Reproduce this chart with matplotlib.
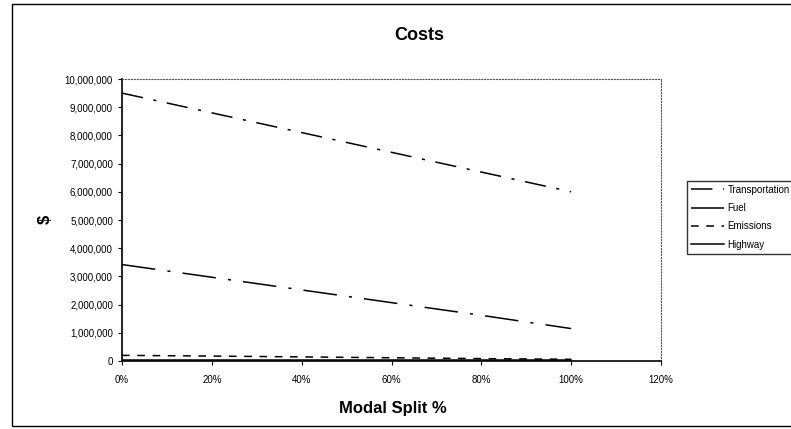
import matplotlib
matplotlib.use("Agg")
import matplotlib.pyplot as plt
from matplotlib.ticker import FuncFormatter, MultipleLocator
from matplotlib.patches import Rectangle

plt.rcParams['font.family'] = ['Liberation Sans', 'DejaVu Sans']

split = [0.0, 0.2, 0.4, 0.6, 0.8, 1.0]
transportation = [9500000, 8800000, 8100000, 7400000, 6700000, 6000000]
fuel = [3420000, 2970000, 2520000, 2070000, 1620000, 1150000]
emissions = [200000, 175000, 145000, 115000, 85000, 60000]
highway = [30000, 30000, 30000, 30000, 30000, 30000]

fig = plt.figure(figsize=(7.91, 4.29), dpi=100)
ax = fig.add_axes([122 / 791, 1 - 361 / 429, (661 - 122) / 791, (361 - 79) / 429])

ax.plot(split, transportation, color='black', lw=1.1, dashes=(14, 7, 2, 7), label='Transportation')
ax.plot(split, fuel, color='black', lw=1.1, dashes=(22, 8, 2, 8), label='Fuel')
ax.plot(split, emissions, color='black', lw=1.1, dashes=(5, 5), label='Emissions')
ax.plot(split, highway, color='black', lw=1.1, label='Highway')

ax.set_xlim(0, 1.2)
ax.set_ylim(0, 10000000)
ax.xaxis.set_major_locator(MultipleLocator(0.2))
ax.yaxis.set_major_locator(MultipleLocator(1000000))
ax.xaxis.set_major_formatter(FuncFormatter(lambda v, p: f"{v * 100:.0f}%"))
ax.yaxis.set_major_formatter(FuncFormatter(lambda v, p: f"{v:,.0f}"))
ax.tick_params(axis='both', labelsize=7, length=3, width=0.8, direction='out', color='black')
ax.tick_params(axis='x', pad=7)

for side in ['top', 'right']:
    ax.spines[side].set_linestyle(':')
    ax.spines[side].set_color('#555555')
    ax.spines[side].set_linewidth(0.8)
for side in ['left', 'bottom']:
    ax.spines[side].set_color('black')
    ax.spines[side].set_linewidth(1.2)

fig.text(419 / 791, 1 - 35 / 429, 'Costs', ha='center', va='center', fontsize=13, fontweight='bold')
fig.text(393 / 791, 1 - 409 / 429, 'Modal Split %', ha='center', va='center', fontsize=12, fontweight='bold')
fig.text(45 / 791, 1 - 219 / 429, '$', ha='center', va='center', fontsize=12, fontweight='bold', rotation=90)

leg = fig.legend(loc='upper left', bbox_to_anchor=(687 / 791, 1 - 181 / 429), fontsize=7,
                 frameon=True, fancybox=False, borderpad=0.4, labelspacing=0.85,
                 handlelength=3.4, handletextpad=0.35, borderaxespad=0)
leg.get_frame().set_edgecolor('black')
leg.get_frame().set_linewidth(1.0)

fig.patches.append(Rectangle((12 / 791, 1 - 426 / 429), 1.2, (426 - 4) / 429, transform=fig.transFigure,
                             fill=False, edgecolor='black', lw=1.0))

fig.savefig('out.png', dpi=100)
